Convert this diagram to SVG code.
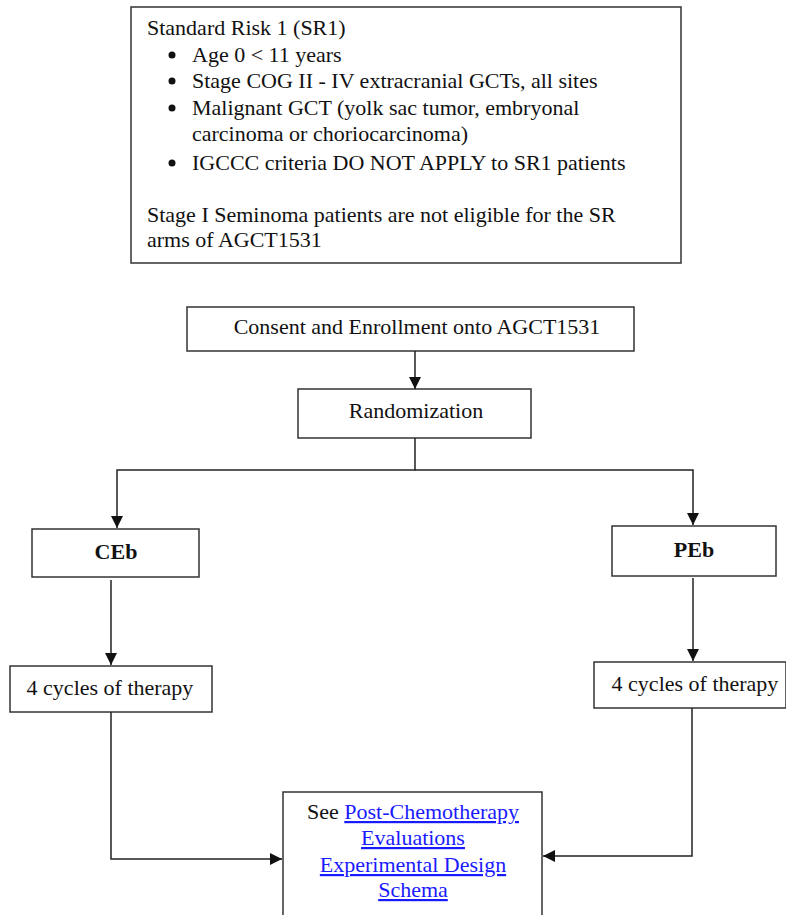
<svg xmlns="http://www.w3.org/2000/svg" width="786" height="915" viewBox="0 0 786 915">
  <style>
    .box { fill: #ffffff; stroke: #333333; stroke-width: 1.5; }
    .t { font-family: "Liberation Serif", "Times New Roman", serif; font-size: 22px; fill: #111111; }
    .c { text-anchor: middle; }
    .b { font-weight: bold; }
    .link { fill: #1a1aff; text-decoration: underline; }
    .wire { fill: none; stroke: #222222; stroke-width: 1.5; }
    .dot { fill: #111111; }
  </style>
  <defs>
    <marker id="arrow" viewBox="0 0 12 12" refX="12" refY="6" markerWidth="12" markerHeight="12" markerUnits="userSpaceOnUse" orient="auto">
      <path d="M0,0 L12,6 L0,12 Z" fill="#111111"/>
    </marker>
  </defs>

  <rect width="786" height="915" fill="#ffffff"/>

  <g id="eligibility">
    <rect class="box" x="131" y="7" width="550" height="256"/>
    <text class="t" x="147" y="35">Standard Risk 1 (SR1)</text>
    <circle class="dot" cx="172" cy="55" r="3.5"/>
    <text class="t" x="192" y="62">Age 0 &lt; 11 years</text>
    <circle class="dot" cx="172" cy="81" r="3.5"/>
    <text class="t" x="192" y="88">Stage COG II - IV extracranial GCTs, all sites</text>
    <circle class="dot" cx="172" cy="108" r="3.5"/>
    <text class="t" x="192" y="115">Malignant GCT (yolk sac tumor, embryonal</text>
    <text class="t" x="192" y="141">carcinoma or choriocarcinoma)</text>
    <circle class="dot" cx="172" cy="163" r="3.5"/>
    <text class="t" x="192" y="170">IGCCC criteria DO NOT APPLY to SR1 patients</text>
    <text class="t" x="147" y="222">Stage I Seminoma patients are not eligible for the SR</text>
    <text class="t" x="147" y="247">arms of AGCT1531</text>
  </g>

  <g id="consent">
    <rect class="box" x="187" y="307" width="447" height="44"/>
    <text class="t c" x="417" y="334">Consent and Enrollment onto AGCT1531</text>
  </g>

  <g id="randomization">
    <rect class="box" x="298" y="389" width="233" height="49"/>
    <text class="t c" x="416" y="418">Randomization</text>
  </g>

  <g id="ceb">
    <rect class="box" x="32" y="529" width="167" height="48"/>
    <text class="t c b" x="116" y="559">CEb</text>
  </g>

  <g id="peb">
    <rect class="box" x="612" y="526" width="164" height="50"/>
    <text class="t c b" x="694" y="557">PEb</text>
  </g>

  <g id="ceb-cycles">
    <rect class="box" x="10" y="666" width="202" height="46"/>
    <text class="t c" x="110" y="695">4 cycles of therapy</text>
  </g>

  <g id="peb-cycles">
    <rect class="box" x="594" y="662" width="192" height="46"/>
    <text class="t c" x="695" y="691">4 cycles of therapy</text>
  </g>

  <g id="post-chemo">
    <rect class="box" x="283" y="792" width="259" height="140"/>
    <text class="t c" x="413" y="819"><tspan>See </tspan><tspan class="link">Post-Chemotherapy</tspan></text>
    <text class="t c link" x="413" y="845">Evaluations</text>
    <text class="t c link" x="413" y="872">Experimental Design</text>
    <text class="t c link" x="413" y="897">Schema</text>
  </g>

  <g id="connectors">
    <line class="wire" x1="415" y1="351" x2="415" y2="389" marker-end="url(#arrow)"/>
    <polyline class="wire" points="415,438 415,470 117,470 117,528" marker-end="url(#arrow)"/>
    <polyline class="wire" points="415,470 693,470 693,525" marker-end="url(#arrow)"/>
    <line class="wire" x1="111" y1="580" x2="111" y2="665" marker-end="url(#arrow)"/>
    <line class="wire" x1="693" y1="578" x2="693" y2="661" marker-end="url(#arrow)"/>
    <polyline class="wire" points="111,712 111,859 282,859" marker-end="url(#arrow)"/>
    <polyline class="wire" points="692,708 692,856 543,856" marker-end="url(#arrow)"/>
  </g>
</svg>
